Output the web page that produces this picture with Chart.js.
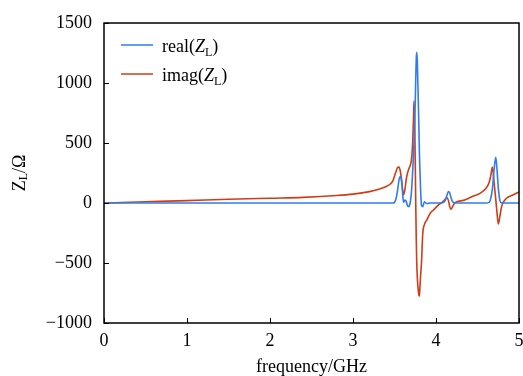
<!DOCTYPE html>
<html>
<head>
<meta charset="utf-8">
<script src="https://cdn.jsdelivr.net/npm/chart.js@4"></script>
<style>html,body{margin:0;padding:0;background:#fff;}canvas{display:block;}</style>
</head>
<body>
<canvas id="c" width="523" height="376"></canvas>
<script>
// frequency in GHz
const freqGHz = [0, 0.5, 1.0, 1.5, 2.0, 2.4, 2.8, 3.0, 3.2, 3.3,
  3.4, 3.45, 3.48, 3.5, 3.52, 3.54, 3.555, 3.57, 3.58, 3.59,
  3.6, 3.61, 3.625, 3.64, 3.655, 3.67, 3.685, 3.7, 3.71, 3.72,
  3.73, 3.735, 3.745, 3.755, 3.762, 3.768, 3.775, 3.785, 3.795, 3.8,
  3.805, 3.815, 3.825, 3.84, 3.86, 3.89, 3.93, 3.97, 4.04, 4.08,
  4.11, 4.13, 4.15, 4.165, 4.18, 4.2, 4.23, 4.33, 4.45, 4.53,
  4.6, 4.64, 4.66, 4.68, 4.7, 4.72, 4.735, 4.75, 4.77, 4.79,
  4.85, 4.92, 5.0];
// real(Z_L) in Ohm
const realZL = [0, 0, 0, 0, 0, 0, 0, 0, 0, 0,
  0, 0, 0, 5, 40, 120, 195, 220, 212, 150,
  60, 5, 25, 15, -20, -30, -10, 60, 150, 280,
  420, 500, 700, 1000, 1200, 1256, 1180, 900, 600, 420,
  300, 100, -20, -30, 10, -5, 0, 0, 0, 2,
  20, 60, 95, 85, 45, 10, 0, 0, 0, 0,
  0, 5, 40, 120, 280, 381, 280, 130, 20, 0,
  0, 0, 0];
// imag(Z_L) in Ohm
const imagZL = [0, 10, 20, 31, 40, 47, 62, 74, 95, 112,
  138, 158, 185, 225, 265, 298, 300, 265, 220, 160,
  100, 68, 110, 190, 245, 280, 305, 340, 400, 520,
  720, 850, 600, 50, -300, -500, -620, -720, -770, -775,
  -720, -600, -500, -260, -180, -140, -85, -58, -10, 10,
  30, 45, 20, -30, -53, -30, 3, 22, 58, 80,
  120, 170, 230, 300, 170, 30, -80, -175, -110, -30,
  40, 65, 92];
const xTicks = [0, 1, 2, 3, 4, 5];
const yTicks = [-1000, -500, 0, 500, 1000, 1500];
const seriesNames = ['real', 'imag'];

const SERIF = '"Liberation Serif", "Times New Roman", serif';
Chart.defaults.font.family = SERIF;
Chart.defaults.font.size = 18;
Chart.defaults.color = '#000';

function drawZL(ctx, x, y, prefix, italicZ, size) {
  ctx.font = size + 'px ' + SERIF;
  ctx.fillText(prefix, x, y); x += ctx.measureText(prefix).width;
  ctx.font = (italicZ ? 'italic ' : '') + size + 'px ' + SERIF;
  ctx.fillText('Z', x, y); x += ctx.measureText('Z').width;
  ctx.font = Math.round(size * 0.68) + 'px ' + SERIF;
  ctx.fillText('L', x, y + size * 0.22); x += ctx.measureText('L').width;
  return x;
}

const overlay = {
  id: 'overlay',
  afterDatasetsDraw(chart) {
    const { ctx, chartArea: a, scales: { x, y } } = chart;
    ctx.save();
    ctx.strokeStyle = '#000';
    ctx.lineWidth = 1.5;
    ctx.strokeRect(a.left, a.top, a.right - a.left, a.bottom - a.top);
    ctx.lineWidth = 1;
    ctx.beginPath();
    x.ticks.forEach(t => {
      const px = Math.round(x.getPixelForValue(t.value)) + 0.5;
      ctx.moveTo(px, a.bottom); ctx.lineTo(px, a.bottom - 5);
    });
    y.ticks.forEach(t => {
      const py = Math.round(y.getPixelForValue(t.value)) + 0.5;
      ctx.moveTo(a.left, py); ctx.lineTo(a.left + 5, py);
    });
    ctx.stroke();

    // legend
    ctx.textBaseline = 'alphabetic';
    ctx.textAlign = 'left';
    chart.data.datasets.forEach((ds, i) => {
      const ly = 45 + 29 * i;
      ctx.strokeStyle = ds.borderColor;
      ctx.lineWidth = 1.5;
      ctx.beginPath(); ctx.moveTo(121, ly); ctx.lineTo(153, ly); ctx.stroke();
      ctx.fillStyle = '#000';
      let tx = drawZL(ctx, 162, ly + 7, seriesNames[i] + '(', true, 18);
      ctx.font = '18px ' + SERIF;
      ctx.fillText(')', tx, ly + 7);
    });

    // x title
    ctx.fillStyle = '#000';
    ctx.font = '18px ' + SERIF;
    ctx.textAlign = 'center';
    ctx.textBaseline = 'middle';
    ctx.fillText('frequency/GHz', (a.left + a.right) / 2, 367);

    // y title
    ctx.save();
    ctx.translate(20, (a.top + a.bottom) / 2);
    ctx.rotate(-Math.PI / 2);
    ctx.textAlign = 'left';
    ctx.textBaseline = 'middle';
    ctx.font = '18px ' + SERIF;
    const wZ = ctx.measureText('Z').width;
    const wR = ctx.measureText('/Ω').width;
    ctx.font = '12px ' + SERIF;
    const wL = ctx.measureText('L').width;
    let sx = -(wZ + wL + wR) / 2;
    sx = drawZL(ctx, sx, 0, '', false, 18);
    ctx.font = '18px ' + SERIF;
    ctx.fillText('/Ω', sx, 0);
    ctx.restore();
    ctx.restore();
  }
};

new Chart(document.getElementById('c'), {
  type: 'line',
  data: {
    datasets: [
      { label: 'real(Z_L)', data: freqGHz.map((f, i) => ({ x: f, y: realZL[i] })),
        borderColor: '#2e7df0', borderWidth: 1.6, pointRadius: 0, cubicInterpolationMode: 'monotone', fill: false },
      { label: 'imag(Z_L)', data: freqGHz.map((f, i) => ({ x: f, y: imagZL[i] })),
        borderColor: '#d23c14', borderWidth: 1.6, pointRadius: 0, cubicInterpolationMode: 'monotone', fill: false }
    ]
  },
  options: {
    responsive: false,
    animation: false,
    layout: { padding: { left: 0, top: 23, right: 4, bottom: 0 } },
    plugins: { legend: { display: false }, tooltip: { enabled: false } },
    scales: {
      x: {
        type: 'linear', min: 0, max: 5,
        afterBuildTicks: s => { s.ticks = xTicks.map(v => ({ value: v })); },
        afterFit: s => { s.height = 53; s.paddingLeft = 0; s.paddingRight = 0; },
        grid: { display: false, drawTicks: false },
        border: { display: false },
        ticks: { padding: 7, maxRotation: 0, callback: v => String(v) }
      },
      y: {
        type: 'linear', min: -1000, max: 1500,
        afterBuildTicks: s => { s.ticks = yTicks.map(v => ({ value: v })); },
        afterFit: s => { s.width = 104; s.paddingTop = 0; s.paddingBottom = 0; },
        grid: { display: false, drawTicks: false },
        border: { display: false },
        ticks: { padding: 12, callback: v => String(v).replace('-', '\u2212') }
      }
    }
  },
  plugins: [overlay]
});
</script>
</body>
</html>
